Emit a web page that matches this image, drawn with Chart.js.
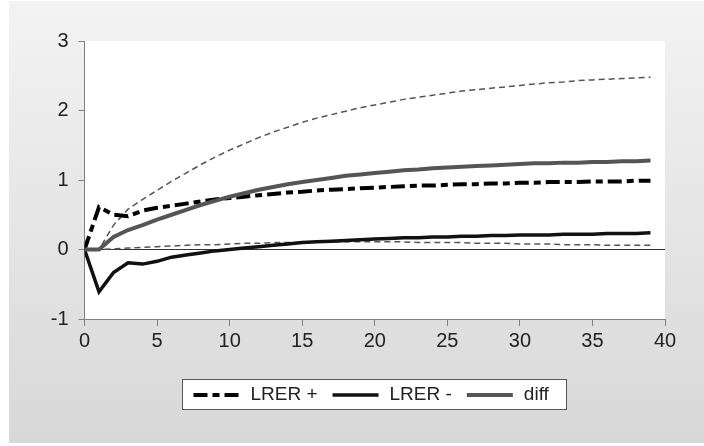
<!DOCTYPE html>
<html>
<head>
<meta charset="utf-8">
<script src="https://cdn.jsdelivr.net/npm/chart.js@4/dist/chart.umd.min.js"></script>
<style>
  body { margin: 0; background: #fff; }
  #bg { position: absolute; left: 9px; top: 1px; width: 695px; height: 442px;
        background: linear-gradient(#f3f3f3, #d8d8d8); }
  #wrap { position: absolute; left: 0; top: 0; width: 704px; height: 446px; }
</style>
</head>
<body>
<div id="bg"></div>
<div id="wrap"><canvas id="c"></canvas></div>
<script>
// horizon (periods after the shock)
const periods = [0,1,2,3,4,5,6,7,8,9,10,11,12,13,14,15,16,17,18,19,
  20,21,22,23,24,25,26,27,28,29,30,31,32,33,34,35,36,37,38,39];

const lrerPos = [0,0.61,0.5,0.48,0.56,0.6,0.63,0.66,0.69,0.72,0.74,0.76,0.78,0.8,0.82,0.83,0.85,0.86,0.87,0.88,
  0.89,0.9,0.91,0.92,0.92,0.93,0.94,0.94,0.95,0.95,0.96,0.96,0.97,0.97,0.97,0.98,0.98,0.98,0.99,0.99];
const lrerNeg = [0,-0.61,-0.33,-0.19,-0.21,-0.17,-0.11,-0.08,-0.05,-0.02,0,0.02,0.04,0.06,0.08,0.1,0.11,0.12,0.13,0.14,
  0.15,0.16,0.17,0.17,0.18,0.18,0.19,0.19,0.2,0.2,0.21,0.21,0.21,0.22,0.22,0.22,0.23,0.23,0.23,0.24];
const diff = [0,0,0.18,0.28,0.35,0.43,0.5,0.57,0.64,0.7,0.76,0.81,0.86,0.9,0.94,0.97,1.0,1.03,1.06,1.08,
  1.1,1.12,1.14,1.15,1.17,1.18,1.19,1.2,1.21,1.22,1.23,1.24,1.24,1.25,1.25,1.26,1.26,1.27,1.27,1.28];
// confidence band of diff
const upper = [0,0,0.35,0.58,0.72,0.85,0.98,1.1,1.22,1.33,1.43,1.52,1.61,1.69,1.76,1.83,1.89,1.94,1.99,2.04,
  2.08,2.12,2.16,2.19,2.22,2.25,2.28,2.3,2.32,2.34,2.36,2.38,2.4,2.41,2.43,2.44,2.45,2.46,2.47,2.48];
const lower = [0,0,0.01,0.02,0.03,0.04,0.05,0.06,0.07,0.07,0.08,0.09,0.09,0.1,0.1,0.1,0.11,0.11,0.11,0.11,
  0.11,0.11,0.11,0.1,0.1,0.1,0.1,0.09,0.09,0.09,0.08,0.08,0.08,0.07,0.07,0.07,0.06,0.06,0.06,0.06];

const xTicks = [0,5,10,15,20,25,30,35,40];
const yTicks = [-1,0,1,2,3];

const pts = arr => arr.map((v, i) => ({ x: periods[i], y: v }));
const FONT = { family: 'Liberation Sans, Arial, sans-serif', size: 20 };

// legend drawn in an EViews-like framed box under the plot
const boxLegend = {
  id: 'boxLegend',
  afterDraw(chart) {
    const ctx = chart.ctx;
    const items = chart.data.datasets.filter(d => d.inLegend);
    const left = 182.5, top = 379.5, w = 384, h = 30;
    ctx.save();
    ctx.fillStyle = '#fff';
    ctx.fillRect(left, top, w, h);
    ctx.strokeStyle = '#555';
    ctx.lineWidth = 1;
    ctx.strokeRect(left, top, w, h);
    ctx.font = '19px ' + FONT.family;
    ctx.textBaseline = 'middle';
    const cy = top + h / 2 + 0.5;
    let x = left + 11;
    items.forEach(d => {
      ctx.strokeStyle = d.borderColor;
      ctx.lineWidth = d.borderWidth;
      ctx.setLineDash(d.borderDash || []);
      ctx.beginPath();
      ctx.moveTo(x, cy);
      ctx.lineTo(x + 46, cy);
      ctx.stroke();
      ctx.setLineDash([]);
      ctx.fillStyle = '#222';
      ctx.fillText(d.label, x + 57, cy);
      x += 57 + ctx.measureText(d.label).width + 15;
    });
    ctx.restore();
  }
};

new Chart(document.getElementById('c'), {
  type: 'line',
  data: {
    datasets: [
      { label: 'LRER +', data: pts(lrerPos), borderColor: '#000', borderWidth: 4, borderDash: [14, 5, 7, 5], inLegend: true, order: 2 },
      { label: 'LRER -', data: pts(lrerNeg), borderColor: '#111', borderWidth: 3.5, inLegend: true, order: 1 },
      { label: 'diff', data: pts(diff), borderColor: '#555', borderWidth: 4, inLegend: true, order: 0 },
      { label: 'upper', data: pts(upper), borderColor: '#555', borderWidth: 1.5, borderDash: [6, 4], order: 3 },
      { label: 'lower', data: pts(lower), borderColor: '#555', borderWidth: 1.5, borderDash: [6, 4], order: 3 }
    ]
  },
  options: {
    responsive: true,
    maintainAspectRatio: false,
    animation: false,
    elements: { point: { radius: 0 }, line: { tension: 0 } },
    layout: { padding: { left: 0, right: 39, top: 41, bottom: 0 } },
    plugins: { legend: { display: false }, tooltip: { enabled: false } },
    scales: {
      x: {
        type: 'linear', min: 0, max: 40,
        afterBuildTicks: s => { s.ticks = xTicks.map(v => ({ value: v })); },
        afterFit: s => { s.height = 127; },
        grid: { drawOnChartArea: false, tickLength: 7, color: '#808080' },
        border: { color: '#808080' },
        ticks: { font: FONT, color: '#222', padding: 3, maxRotation: 0 }
      },
      y: {
        min: -1, max: 3,
        afterBuildTicks: s => { s.ticks = yTicks.map(v => ({ value: v })); },
        afterFit: s => { s.width = 84.5; },
        grid: {
          tickLength: 6,
          color: c => (c.tick && c.tick.value === 0) ? '#333' : 'rgba(0,0,0,0)',
          tickColor: '#808080'
        },
        border: { color: '#808080' },
        ticks: { font: FONT, color: '#222', padding: 10 }
      }
    }
  },
  plugins: [{
    id: 'plotBg',
    beforeDraw(chart) {
      const a = chart.chartArea, ctx = chart.ctx;
      ctx.save();
      ctx.fillStyle = '#fff';
      ctx.fillRect(a.left, a.top, a.right - a.left, a.bottom - a.top);
      ctx.restore();
    }
  }, boxLegend]
});
</script>
</body>
</html>
